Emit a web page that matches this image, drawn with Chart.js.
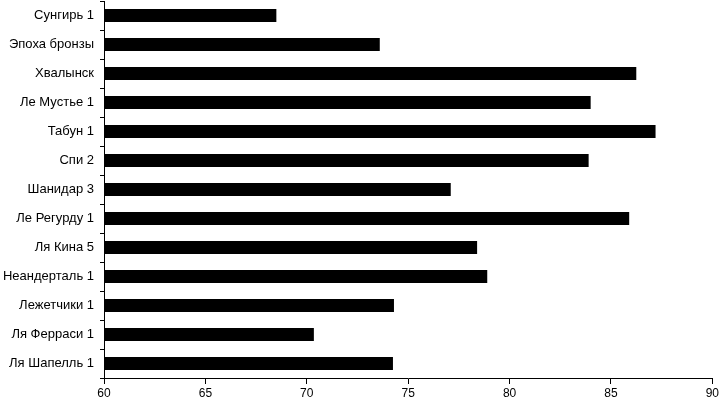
<!DOCTYPE html>
<html>
<head>
<meta charset="utf-8">
<script src="https://cdn.jsdelivr.net/npm/chart.js@4"></script>
<style>
html,body{margin:0;padding:0;background:#fff;}
#wrap{width:721px;height:404px;}
</style>
</head>
<body>
<div id="wrap"><canvas id="c" width="721" height="404"></canvas></div>
<script>
const categories = ["Сунгирь 1","Эпоха бронзы","Хвалынск","Ле Мустье 1","Табун 1","Спи 2","Шанидар 3","Ле Регурду 1","Ля Кина 5","Неандерталь 1","Лежетчики 1","Ля Ферраси 1","Ля Шапелль 1"];
const values = [68.5,73.6,86.25,84.0,87.2,83.9,77.1,85.9,78.4,78.9,74.3,70.35,74.25];
const xMin = 60, xMax = 90, xStep = 5;

new Chart(document.getElementById('c'), {
  type: 'bar',
  data: {
    labels: categories,
    datasets: [{
      data: values,
      backgroundColor: '#000',
      borderWidth: 0,
      barPercentage: 0.44,
      categoryPercentage: 1.0,
      base: xMin
    }]
  },
  options: {
    indexAxis: 'y',
    responsive: false,
    animation: false,
    layout: { padding: { top: 1, right: 0, bottom: 0, left: 0 } },
    plugins: { legend: { display: false }, tooltip: { enabled: false } },
    scales: {
      x: {
        min: xMin, max: xMax,
        ticks: { stepSize: xStep, color: '#000', font: { family: 'Liberation Sans', size: 12 }, padding: 2 },
        grid: { drawOnChartArea: false, drawTicks: true, tickLength: 6, color: '#000', lineWidth: 1 },
        border: { color: '#000', width: 1 },
        afterFit: s => { s.height = 26; s.paddingLeft = 0; }
      },
      y: {
        ticks: { color: '#000', font: { family: 'Liberation Sans', size: 13 }, padding: 6 },
        grid: { drawOnChartArea: false, drawTicks: true, tickLength: 4, color: '#000', lineWidth: 1, offset: true },
        border: { color: '#000', width: 1 },
        afterFit: s => { s.width = 104; s.paddingTop = 0; s.paddingBottom = 0; }
      }
    }
  }
});
</script>
</body>
</html>
